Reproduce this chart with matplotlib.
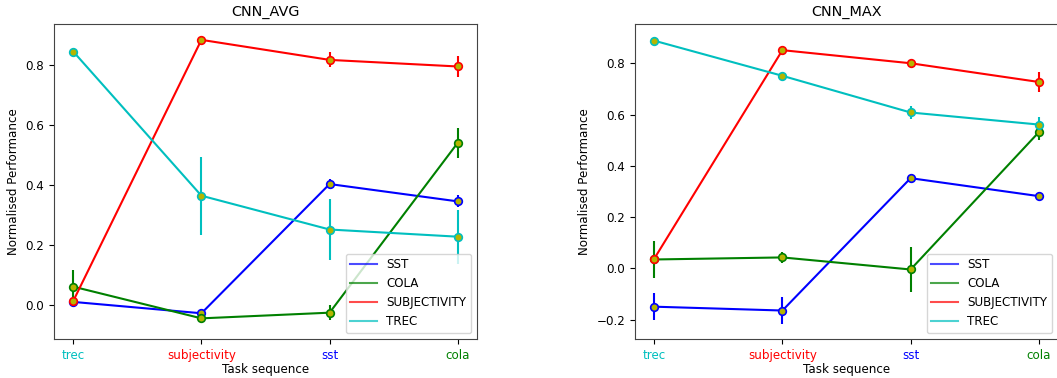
import numpy as np
import matplotlib
matplotlib.use("Agg")
import matplotlib.pyplot as plt

# ========== DATA ==========

TASKS = ['trec', 'subjectivity', 'sst', 'cola']
TASK_COLORS = ['c', 'r', 'b', 'g']
SERIES = ['SST', 'COLA', 'SUBJECTIVITY', 'TREC']
SERIES_COLORS = {'SST': 'b', 'COLA': 'g', 'SUBJECTIVITY': 'r', 'TREC': 'c'}

avg_sst = [0.009, -0.029, 0.403, 0.345]
avg_sst_err = [0.005, 0.015, 0.017, 0.02]
avg_cola = [0.060, -0.046, -0.027, 0.541]
avg_cola_err = [0.055, 0.01, 0.025, 0.05]
avg_subj = [0.012, 0.885, 0.818, 0.796]
avg_subj_err = [0.005, 0.005, 0.025, 0.035]
avg_trec = [0.846, 0.364, 0.251, 0.227]
avg_trec_err = [0.005, 0.13, 0.102, 0.09]

max_sst = [-0.149, -0.164, 0.352, 0.282]
max_sst_err = [0.053, 0.053, 0.01, 0.015]
max_cola = [0.035, 0.043, -0.004, 0.531]
max_cola_err = [0.071, 0.02, 0.088, 0.03]
max_subj = [0.038, 0.851, 0.800, 0.727]
max_subj_err = [0.005, 0.005, 0.008, 0.04]
max_trec = [0.888, 0.751, 0.608, 0.561]
max_trec_err = [0.005, 0.005, 0.025, 0.03]

PANELS = [
    {'title': 'CNN_AVG', 'ylim': (-0.115, 0.938), 'yticks': [0.0, 0.2, 0.4, 0.6, 0.8],
     'vals': {'SST': (avg_sst, avg_sst_err), 'COLA': (avg_cola, avg_cola_err),
              'SUBJECTIVITY': (avg_subj, avg_subj_err), 'TREC': (avg_trec, avg_trec_err)}},
    {'title': 'CNN_MAX', 'ylim': (-0.275, 0.953), 'yticks': [-0.2, 0.0, 0.2, 0.4, 0.6, 0.8],
     'vals': {'SST': (max_sst, max_sst_err), 'COLA': (max_cola, max_cola_err),
              'SUBJECTIVITY': (max_subj, max_subj_err), 'TREC': (max_trec, max_trec_err)}},
]

FS = 8.6

# ========== PLOT ==========

W, H = 1057, 378
fig = plt.figure(figsize=(W / 100, H / 100), dpi=100)
axes_px = [(54, 24, 423, 315), (635, 24, 423, 315)]

for panel, (x0, y0, w, h) in zip(PANELS, axes_px):
    ax = fig.add_axes([x0 / W, (H - y0 - h) / H, w / W, h / H])
    x = np.arange(len(TASKS))
    handles = []
    for name in SERIES:
        vals, errs = panel['vals'][name]
        col = SERIES_COLORS[name]
        ax.errorbar(x, vals, yerr=errs, color=col, lw=1.5, fmt='o-',
                    markersize=5.5, markerfacecolor='#b5b500', markeredgecolor=col,
                    markeredgewidth=1.2, capsize=0)
        h_line, = ax.plot([], [], color=col, lw=1.5, alpha=0.7, label=name)
        handles.append(h_line)

    ax.set_title(panel['title'], fontsize=10.4)
    ax.set_ylim(*panel['ylim'])
    ax.set_yticks(panel['yticks'])
    ax.set_xticks(x)
    ax.set_xticklabels(TASKS)
    for lbl, c in zip(ax.get_xticklabels(), TASK_COLORS):
        lbl.set_color(c)
    ax.set_xlabel('Task sequence', fontsize=FS, labelpad=1)
    ax.set_ylabel('Normalised Performance', fontsize=FS)
    ax.tick_params(labelsize=FS)
    for s in ax.spines.values():
        s.set_color('#444444')
    ax.legend(handles=handles, loc='lower right', fontsize=FS, handlelength=2.2)

plt.savefig('out.png', dpi=100)
